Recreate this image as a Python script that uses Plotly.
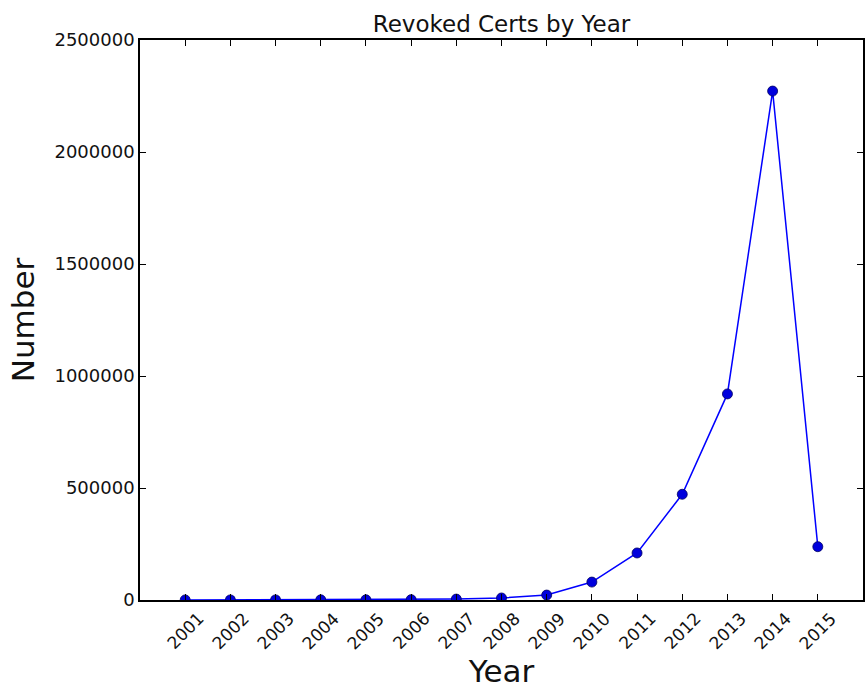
import plotly.graph_objects as go

years = [2001, 2002, 2003, 2004, 2005, 2006, 2007, 2008, 2009, 2010, 2011, 2012, 2013, 2014, 2015]
revoked = [300, 400, 500, 700, 900, 1500, 4000, 9000, 22000, 80000, 210000, 472000, 920000, 2272000, 238000]
y_ticks = [0, 500000, 1000000, 1500000, 2000000, 2500000]

fig = go.Figure()
fig.add_trace(go.Scatter(
    x=years, y=revoked, mode="lines+markers",
    line=dict(color="#0000ff", width=1.5),
    marker=dict(color="#0000dd", size=10, line=dict(color="#000060", width=0.8)),
    showlegend=False,
))

font = "DejaVu Sans, sans-serif"
# rotated year labels centred on their ticks (matplotlib-style)
for yr in years:
    fig.add_annotation(
        x=yr, xref="x", y=0, yref="paper", yshift=-6,
        text=str(yr), textangle=-45, showarrow=False,
        xanchor="center", yanchor="top",
        font=dict(size=17, family=font, color="#111111"),
    )

fig.update_layout(
    width=865, height=689,
    margin=dict(l=140, r=2, t=40, b=89),
    paper_bgcolor="white", plot_bgcolor="white",
    font=dict(family=font, color="#111111"),
    title=dict(text="Revoked Certs by Year", x=0.5, xref="paper", xanchor="center",
               y=1, yref="paper", yanchor="bottom", pad=dict(b=8),
               font=dict(size=23, family=font)),
)
fig.update_xaxes(
    range=[2000, 2016], tickvals=years, showticklabels=False,
    ticks="inside", ticklen=6, tickcolor="black",
    showline=True, linecolor="black", linewidth=1.5, mirror="allticks",
    showgrid=False, zeroline=False, automargin=False,
    title=dict(text="Year", font=dict(size=31), standoff=61),
)
fig.update_yaxes(
    range=[0, 2500000], tickvals=y_ticks, ticktext=[str(v) for v in y_ticks],
    tickfont=dict(size=18),
    ticks="inside", ticklen=6, tickcolor="black",
    showline=True, linecolor="black", linewidth=1.5, mirror="allticks",
    showgrid=False, zeroline=False, automargin=False,
    title=dict(text="Number", font=dict(size=31), standoff=11),
)

fig.write_html(
    "out.html",
    config={"displayModeBar": False},
    post_script="document.body.style.margin='0';document.body.style.overflow='hidden';",
)
